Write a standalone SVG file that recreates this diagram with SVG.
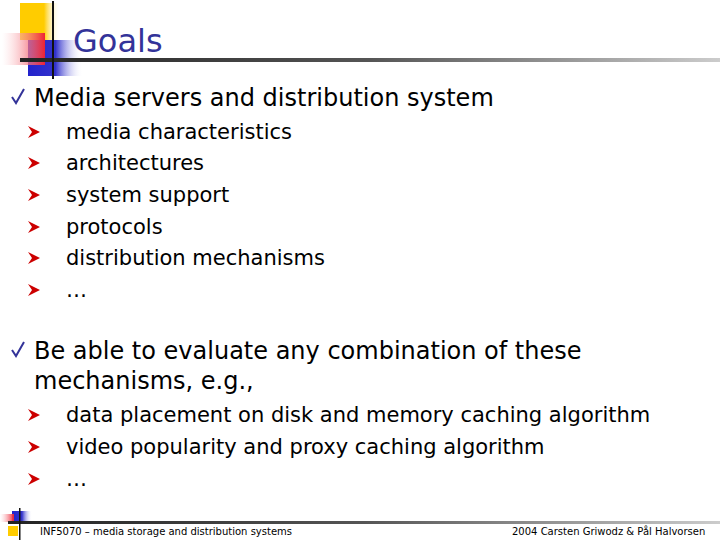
<svg xmlns="http://www.w3.org/2000/svg" width="720" height="540" viewBox="0 0 720 540">
<defs>
<linearGradient id="y" x1="0" x2="1"><stop offset="0" stop-color="#ffcc00"/><stop offset="0.6" stop-color="#ffcc00"/><stop offset="1" stop-color="#fff" stop-opacity="0"/></linearGradient>
<linearGradient id="r" x1="1" x2="0"><stop offset="0" stop-color="#ee2233"/><stop offset="1" stop-color="#ffffff" stop-opacity="0.3"/></linearGradient>
<linearGradient id="b" x1="0" x2="1"><stop offset="0" stop-color="#2222cc"/><stop offset="0.5" stop-color="#3333cc"/><stop offset="1" stop-color="#fff" stop-opacity="0"/></linearGradient>
<linearGradient id="l" x1="0" x2="1"><stop offset="0" stop-color="#222"/><stop offset="0.5" stop-color="#555"/><stop offset="1" stop-color="#ccc"/></linearGradient>
<g id="arr"><path d="M0,-13 L12,-7 L0,-1 L4,-7 Z" fill="#cc0000"/></g>
<g id="chk"><path d="M0,-6 L4,0 L12,-14" fill="none" stroke="#333399" stroke-width="2"/></g>
</defs>
<style>
.t{font-family:"DejaVu Sans","Liberation Sans",sans-serif;fill:#000}
.m{font-size:24px}.s{font-size:21px}
.f{font-family:"DejaVu Sans",sans-serif;font-size:10px;fill:#000}
</style>
<g id="logo">
<rect x="20" y="3" width="40" height="37" fill="url(#y)"/>
<rect x="28" y="40" width="55" height="36" fill="url(#b)"/>
<rect x="2" y="33" width="43" height="32" fill="url(#r)"/>
<rect x="20" y="58" width="700" height="4" fill="url(#l)"/>
<rect x="52" y="1" width="2" height="78" fill="#111"/>
</g>
<text x="73" y="52" font-family="DejaVu Sans,sans-serif" font-size="32" fill="#333399">Goals</text>
<g id="body">
<use href="#chk" x="12" y="103"/>
<text class="t m" x="34" y="106">Media servers and distribution system</text>
<use href="#arr" x="28" y="139"/><text class="t s" x="66" y="139">media characteristics</text>
<use href="#arr" x="28" y="170"/><text class="t s" x="66" y="170">architectures</text>
<use href="#arr" x="28" y="202"/><text class="t s" x="66" y="202">system support</text>
<use href="#arr" x="28" y="234"/><text class="t s" x="66" y="234">protocols</text>
<use href="#arr" x="28" y="265"/><text class="t s" x="66" y="265">distribution mechanisms</text>
<use href="#arr" x="28" y="297"/><text class="t s" x="66" y="297">…</text>
<use href="#chk" x="12" y="356"/>
<text class="t m" x="34" y="359">Be able to evaluate any combination of these</text>
<text class="t m" x="34" y="389">mechanisms, e.g.,</text>
<use href="#arr" x="28" y="422"/><text class="t s" x="66" y="422">data placement on disk and memory caching algorithm</text>
<use href="#arr" x="28" y="454"/><text class="t s" x="66" y="454">video popularity and proxy caching algorithm</text>
<use href="#arr" x="28" y="486"/><text class="t s" x="66" y="486">…</text>
</g>
<g id="footer">
<rect x="12" y="511" width="20" height="11" fill="url(#b)"/>
<rect x="0" y="514" width="14" height="8" fill="url(#r)"/>
<rect x="8" y="526" width="10" height="10" fill="#ffcc00"/>
<rect x="8" y="521" width="712" height="3" fill="url(#l)"/>
<rect x="19" y="508" width="1.5" height="32" fill="#111"/>
<text class="f" x="40" y="535">INF5070 – media storage and distribution systems</text>
<text class="f" x="512" y="535">2004  Carsten Griwodz &amp; Pål Halvorsen</text>
</g>
</svg>
